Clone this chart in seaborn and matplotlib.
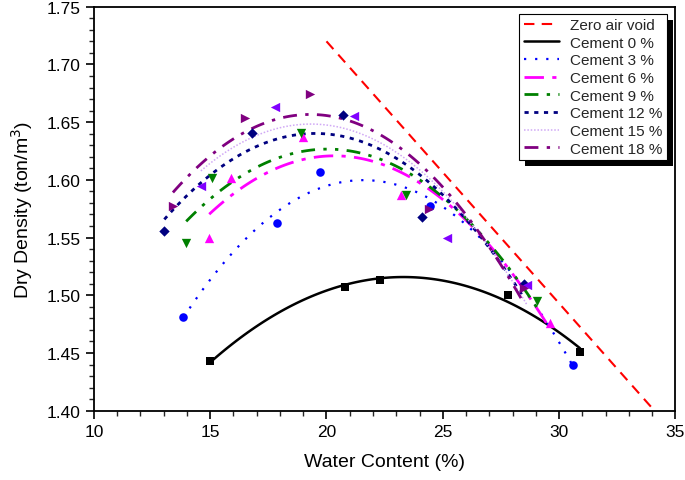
import numpy as np
import pandas as pd
import seaborn as sns
import matplotlib.pyplot as plt
from matplotlib.patches import Rectangle
from matplotlib.ticker import MultipleLocator
from matplotlib.transforms import IdentityTransform

sns.set_theme(style="ticks")
plt.rcParams['font.family'] = ['Liberation Sans', 'DejaVu Sans']

# ---- data ----
zav_w = [20.0, 34.1]
zav_d = [1.72, 1.40]

w0 = [15.0, 20.8, 22.3, 27.8, 30.9]
d0 = [1.443, 1.507, 1.513, 1.500, 1.451]
w3 = [13.85, 17.86, 19.74, 24.44, 30.6]
d3 = [1.481, 1.563, 1.607, 1.577, 1.440]
w6 = [14.96, 15.9, 18.97, 23.2, 29.6]
d6 = [1.550, 1.602, 1.637, 1.587, 1.476]
w9 = [13.97, 15.1, 18.9, 23.4, 29.06]
d9 = [1.545, 1.602, 1.641, 1.587, 1.495]
w12 = [13.03, 16.8, 20.7, 24.1, 28.5]
d12 = [1.556, 1.641, 1.656, 1.568, 1.510]
w15 = [14.6, 17.8, 21.2, 25.2, 28.6]
d15 = [1.595, 1.663, 1.655, 1.550, 1.509]
w18 = [13.4, 16.5, 19.3, 24.4, 28.5]
d18 = [1.577, 1.654, 1.674, 1.575, 1.506]

labels = ["Cement 0 %", "Cement 3 %", "Cement 6 %", "Cement 9 %",
          "Cement 12 %", "Cement 15 %", "Cement 18 %"]

series = [
    (w0, d0, "#000000", "s", 30, '-', 1.8, "#000000"),
    (w3, d3, "#0000FF", "o", 38, (0, (1, 4)), 1.6, "#0000FF"),
    (w6, d6, "#FF00FF", "^", 45, (0, (7, 3, 1.5, 3)), 2.0, "#FF00FF"),
    (w9, d9, "#008000", "v", 45, (0, (5, 3, 1.2, 3, 1.2, 3)), 2.0, "#008000"),
    (w12, d12, "#000080", "D", 28, (0, (1.5, 2)), 2.0, "#000080"),
    (w15, d15, "#8000FF", "<", 45, (0, (1, 1.2)), 1.1, "#D0A8F5"),
    (w18, d18, "#800080", ">", 45, (0, (5, 3, 1.2, 3)), 2.0, "#800080"),
]

fig, ax = plt.subplots(figsize=(6.85, 4.81), dpi=100)
fig.subplots_adjust(left=0.137, right=0.986, top=0.984, bottom=0.144)

sns.lineplot(x=zav_w, y=zav_d, ax=ax, color="#FF0000", lw=1.5,
             linestyle=(0, (5, 3.5)), label="Zero air void")

for (w, d, mc, mk, ms, ls, lw, lc), lab in zip(series, labels):
    df = pd.DataFrame({"w": w, "d": d})
    sns.regplot(data=df, x="w", y="d", order=2, ci=None, ax=ax, marker=mk,
                scatter_kws=dict(color=mc, s=ms, linewidths=0, alpha=1, zorder=4),
                line_kws=dict(color=lc, lw=lw, linestyle=ls, label=lab, zorder=3))

ax.set_xlim(10, 35)
ax.set_ylim(1.40, 1.75)
ax.xaxis.set_major_locator(MultipleLocator(5))
ax.xaxis.set_minor_locator(MultipleLocator(1))
ax.yaxis.set_major_locator(MultipleLocator(0.05))
ax.yaxis.set_minor_locator(MultipleLocator(0.01))
ax.yaxis.set_major_formatter(plt.FormatStrFormatter('%.2f'))
ax.tick_params(which='major', direction='out', length=6, width=1.2,
               labelsize=12.5, colors='#000000', top=False, right=False)
ax.tick_params(which='minor', direction='out', length=3.5, width=1,
               top=False, right=False)
for sp in ax.spines.values():
    sp.set_visible(True)
    sp.set_color('#000000')
    sp.set_linewidth(1.3)

ax.set_xlabel("Water Content (%)", fontsize=14, labelpad=10, color='#000000')
ax.set_ylabel("Dry Density (ton/m$^3$)", fontsize=14, labelpad=8, color='#000000')

handles, labs = ax.get_legend_handles_labels()
leg = ax.legend(handles, labs, loc='upper right', bbox_to_anchor=(0.985, 0.983),
                fontsize=11, frameon=True, fancybox=False, edgecolor='#000000',
                framealpha=1, handlelength=2.3, handletextpad=0.7,
                labelspacing=0.24, borderpad=0.3, borderaxespad=0)
leg.get_frame().set_linewidth(0.8)
leg.set_zorder(10)

fig.canvas.draw()
bb = leg.get_window_extent()
shadow = Rectangle((bb.x0 + 6, bb.y0 - 6), bb.width, bb.height,
                   transform=IdentityTransform(), facecolor='#000000',
                   edgecolor='none', zorder=9)
ax.add_artist(shadow)
shadow.set_clip_on(False)

fig.savefig("out.png", dpi=100)
